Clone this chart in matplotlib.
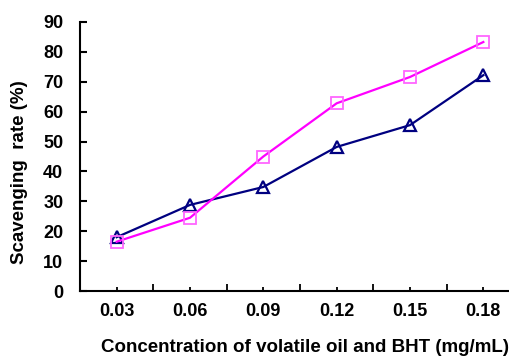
import matplotlib
matplotlib.use("Agg")
import matplotlib.pyplot as plt
import numpy as np

categories = ["0.03", "0.06", "0.09", "0.12", "0.15", "0.18"]
oil = [18.0, 28.8, 34.8, 48.2, 55.5, 72.2]
bht = [16.5, 24.5, 45.0, 62.8, 71.6, 83.3]

plt.rcParams['font.family'] = ['Liberation Sans', 'DejaVu Sans']
fig = plt.figure(figsize=(5.10, 3.56), dpi=100)
ax_w_px = 510 - 80 + 10
ax = fig.add_axes([80/510, 1-291/356, ax_w_px/510, (291-22)/356])

x = np.arange(len(categories))
ax.plot(x, oil, color='#000080', lw=1.6, marker='^', ms=8.5, mfc='none', mec='#000080', mew=1.6)
ax.plot(x, bht, color='#FF00FF', lw=1.6, marker='s', ms=8, mfc='none', mec='#FF66FF', mew=1.3)

ax.set_xlim(-0.5, 5.5)
ax.set_ylim(0, 90)
ax.set_yticks(range(0, 91, 10))
ax.set_xticks(x)
ax.set_xticklabels(categories)
ax.set_xticks(np.arange(-0.5, 6.0, 1.0), minor=True)
for s in ['top', 'right']:
    ax.spines[s].set_visible(False)
for s in ['left', 'bottom']:
    ax.spines[s].set_linewidth(1.5)
ax.tick_params(axis='y', direction='in', length=5, width=1.5, pad=12, labelsize=13)
ax.tick_params(axis='x', which='major', direction='in', length=3, width=1.3, pad=9, labelsize=13)
ax.tick_params(axis='x', which='minor', direction='in', length=5, width=1.3)
for lab in ax.get_xticklabels() + ax.get_yticklabels():
    lab.set_fontweight('bold')

ax.set_xlabel("Concentration of volatile oil and BHT (mg/mL)", fontsize=13.5, fontweight='bold')
ax.set_ylabel("Scavenging  rate (%)", fontsize=13.5, fontweight='bold')
ax.xaxis.set_label_coords((305-80)/ax_w_px, -(347-291)/269)
ax.xaxis.label.set_va('center')
ax.yaxis.set_label_coords(-(80-20)/ax_w_px, (291-172)/269)
ax.yaxis.label.set_va('center')

fig.savefig("out.png", dpi=100)
